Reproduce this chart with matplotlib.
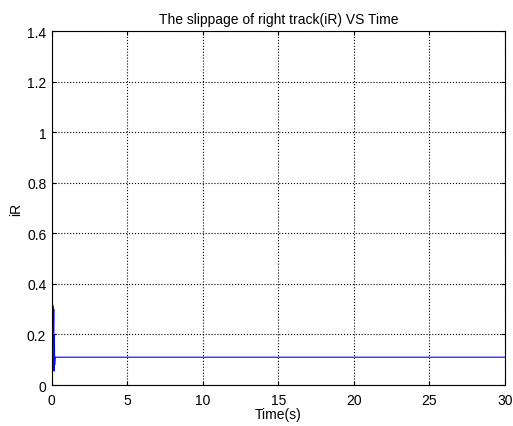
import matplotlib
matplotlib.use("Agg")
import matplotlib.pyplot as plt

plt.rcParams['font.family'] = ['Liberation Sans', 'DejaVu Sans']

time = [0.0, 0.01, 0.03, 0.05, 0.07, 0.09, 0.11, 0.13, 0.15, 0.17, 0.19, 0.22, 0.26, 30.0]
iR = [0.0, 0.33, 0.22, 0.32, 0.21, 0.31, 0.21, 0.30, 0.055, 0.20, 0.08, 0.11, 0.11, 0.11]

xticks = [0, 5, 10, 15, 20, 25, 30]
yticks = [0, 0.2, 0.4, 0.6, 0.8, 1, 1.2, 1.4]
yticklabels = ['0', '0.2', '0.4', '0.6', '0.8', '1', '1.2', '1.4']

fig = plt.figure(figsize=(5.13, 4.27), dpi=100)
ax = fig.add_axes([0.101, 0.096, 0.883, 0.829])
ax.plot(time, iR, color='#0000ff', linewidth=0.8)
ax.set_xlim(0, 30)
ax.set_ylim(0, 1.4)
ax.set_xticks(xticks)
ax.set_yticks(yticks)
ax.set_yticklabels(yticklabels)
ax.grid(True, color='black', linestyle=':', linewidth=0.8)
ax.tick_params(direction='in', labelsize=10, length=3, top=True, right=True)
ax.tick_params(axis='x', pad=6)
ax.tick_params(axis='y', pad=4)
ax.set_xlabel('Time(s)', fontsize=10, labelpad=0)
ax.set_ylabel('iR', fontsize=10, labelpad=3)
ax.set_title('The slippage of right track(iR) VS Time', fontsize=10, pad=6)
for s in ax.spines.values():
    s.set_linewidth(0.8)
fig.savefig('out.png', dpi=100)
